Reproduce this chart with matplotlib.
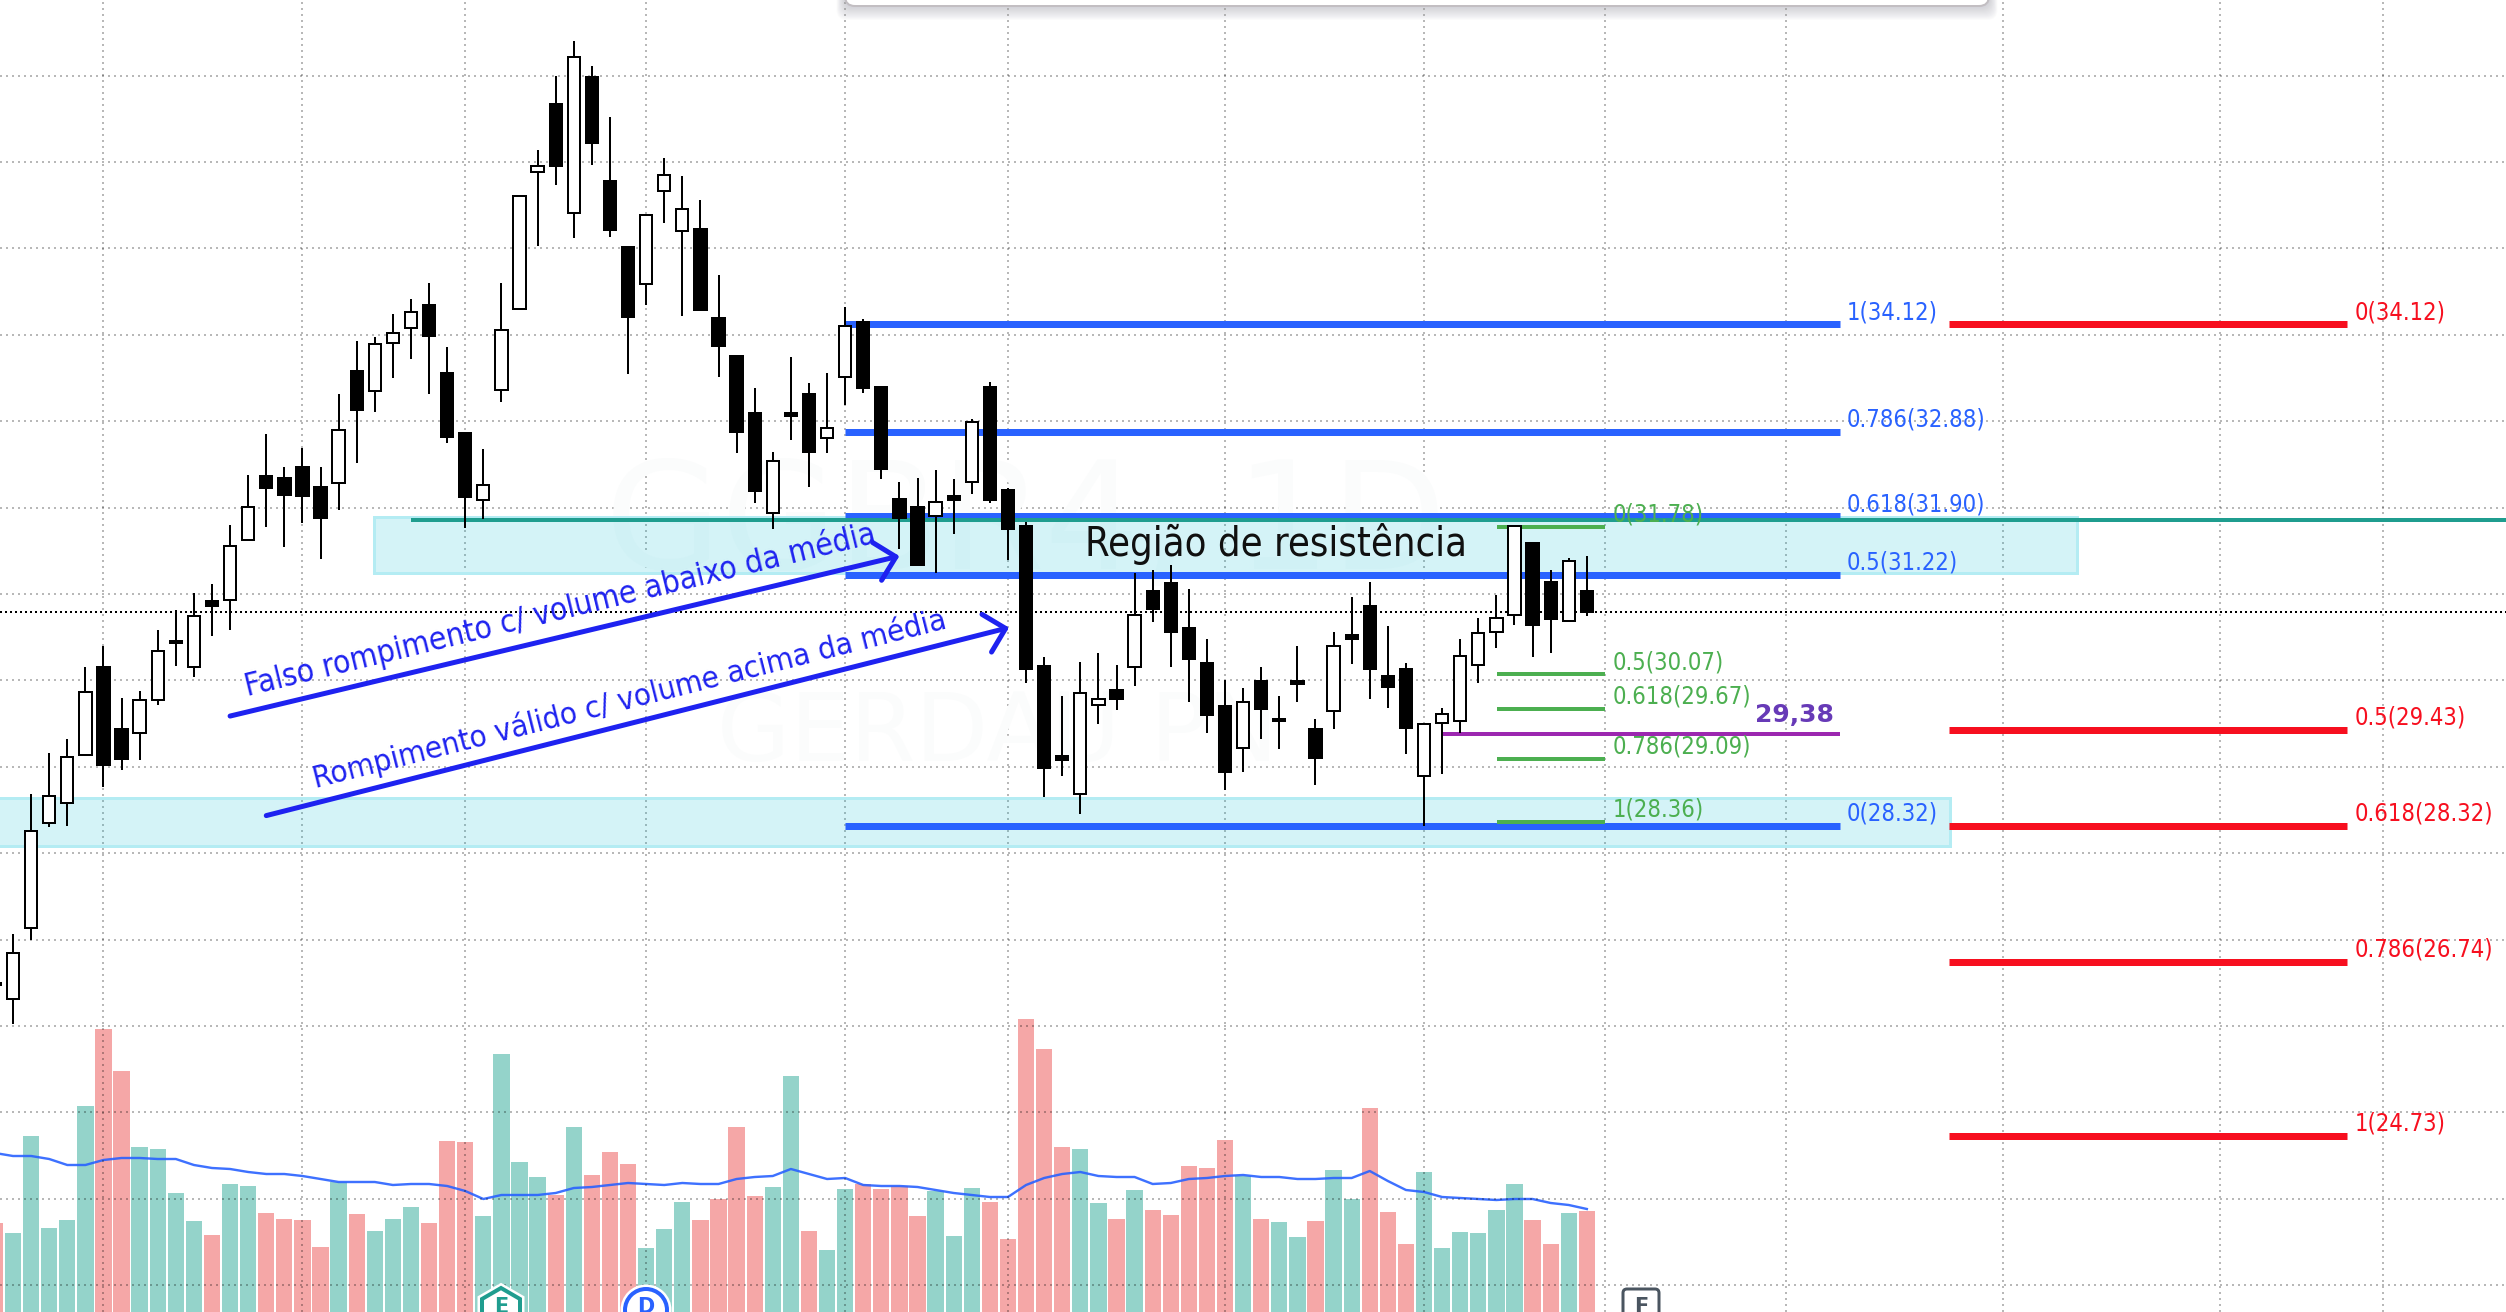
import matplotlib
matplotlib.use("Agg")
import matplotlib.pyplot as plt
from matplotlib.patches import Rectangle, FancyBboxPatch, Polygon, Circle

# candles, first one is the cut off bar at the left edge
opens = [26.50, 26.31, 27.13, 28.35, 28.58, 29.14, 30.16, 29.44, 29.39, 29.77, 30.43, 30.15, 30.92, 30.93, 31.63,
         32.36, 32.34, 32.47, 32.24, 32.28, 33.58, 33.35, 33.90, 34.08, 34.34, 33.56, 32.86, 32.09, 33.36, 34.30,
         35.88, 36.67, 35.41, 36.98, 35.78, 35.01, 34.59, 35.66, 35.20, 35.22, 34.19, 33.75, 33.09, 31.94, 33.09,
         33.31, 32.81, 33.51, 34.15, 33.40, 32.10, 32.01, 31.90, 32.13, 32.30, 33.39, 32.20, 31.79, 30.17, 29.12,
         28.69, 29.72, 29.89, 30.16, 31.03, 31.13, 30.61, 30.20, 29.70, 29.22, 29.99, 29.53, 29.99, 29.44, 29.64,
         30.52, 30.86, 30.05, 30.13, 28.89, 29.51, 29.53, 30.18, 30.56, 30.76, 31.59, 31.14, 30.69, 31.03]
highs = [26.90, 27.07, 28.69, 29.16, 29.32, 30.16, 30.40, 29.80, 29.88, 30.58, 30.81, 31.01, 31.11, 31.80, 32.38,
         32.85, 32.47, 32.69, 32.47, 33.31, 33.93, 33.97, 34.24, 34.41, 34.60, 33.86, 32.87, 32.68, 34.60, 35.62,
         36.14, 36.99, 37.40, 37.11, 36.52, 35.01, 35.39, 36.05, 35.84, 35.56, 34.69, 33.77, 33.38, 32.64, 33.74,
         33.44, 33.56, 34.32, 34.18, 33.40, 32.29, 32.34, 32.43, 32.33, 33.03, 33.45, 32.23, 31.83, 30.27, 29.82,
         30.21, 30.32, 30.18, 31.24, 31.28, 31.33, 31.06, 30.48, 30.01, 29.91, 30.16, 29.82, 30.40, 29.55, 30.56,
         30.97, 31.14, 30.63, 30.20, 29.50, 29.68, 30.48, 30.72, 30.99, 31.79, 31.59, 31.28, 31.42, 31.44]
lows = [26.10, 26.02, 26.99, 28.30, 28.32, 29.13, 28.77, 28.96, 29.08, 29.72, 30.17, 30.04, 30.51, 30.58, 31.63,
        31.77, 31.54, 31.82, 31.40, 31.97, 32.52, 33.11, 33.50, 33.72, 33.31, 32.75, 31.76, 31.87, 33.22, 34.30,
        35.03, 35.73, 35.12, 35.97, 35.13, 33.55, 34.34, 35.29, 34.22, 34.29, 33.51, 32.63, 32.05, 31.75, 32.78,
        32.24, 32.63, 33.19, 33.33, 32.33, 31.52, 31.33, 31.24, 31.69, 32.16, 32.05, 31.39, 29.97, 28.65, 28.89,
        28.45, 29.50, 29.66, 29.94, 30.67, 30.15, 29.75, 29.39, 28.73, 28.94, 29.32, 29.21, 29.75, 28.79, 29.44,
        30.19, 29.79, 29.68, 29.15, 28.31, 28.92, 29.39, 29.97, 30.37, 30.64, 30.27, 30.32, 30.69, 30.75]
closes = [26.47, 26.85, 28.26, 28.66, 29.11, 29.86, 29.02, 29.09, 29.77, 30.34, 30.46, 30.75, 30.86, 31.56, 32.01,
          32.23, 32.15, 32.13, 31.88, 32.90, 33.13, 33.89, 34.02, 34.26, 33.98, 32.82, 32.12, 32.26, 34.05, 35.60,
          35.95, 35.95, 37.21, 36.22, 35.21, 34.20, 35.39, 35.85, 35.46, 34.29, 33.87, 32.88, 32.19, 32.54, 33.06,
          32.64, 32.92, 34.10, 33.38, 32.45, 31.88, 31.33, 32.06, 32.09, 32.99, 32.09, 31.75, 30.13, 28.99, 29.08,
          29.85, 29.79, 29.78, 30.76, 30.83, 30.56, 30.25, 29.60, 28.94, 29.75, 29.67, 29.55, 29.96, 29.10, 30.40,
          30.48, 30.13, 29.92, 29.45, 29.50, 29.61, 30.28, 30.55, 30.72, 31.79, 30.64, 30.71, 31.38, 30.79]

volumes = [8.9, 7.9, 17.6, 8.4, 9.2, 20.6, 28.3, 24.1, 16.5, 16.3, 11.9, 9.1, 7.7, 12.8, 12.6, 9.9, 9.3, 9.2, 6.5,
           13.0, 9.8, 8.1, 9.3, 10.5, 8.9, 17.1, 17.0, 9.6, 25.8, 15.0, 13.5, 11.7, 18.5, 13.7, 16.0, 14.8, 6.4, 8.3,
           11.0, 9.2, 11.3, 18.5, 11.6, 12.5, 23.6, 8.1, 6.2, 12.3, 12.8, 12.3, 12.6, 9.6, 12.1, 7.6, 12.4, 11.0, 7.3,
           29.3, 26.3, 16.5, 16.3, 10.9, 9.3, 12.2, 10.2, 9.7, 14.6, 14.4, 17.2, 13.6, 9.3, 9.0, 7.5, 9.1, 14.2, 11.3,
           20.4, 10.0, 6.8, 14.0, 6.4, 8.0, 7.9, 10.2, 12.8, 9.2, 6.8, 9.9, 10.1]
vol_dirs = "r g g g g g r r g g g g r g g r r r r g r g g g r r r g g g g r g r r r g g g r r r r g g r g g r r r r g g g r r r r r g g r g r r r r r g r g g r g g r r r g g g g g g r r g r".split()
vol_ma = [15.9, 15.6, 15.6, 15.3, 14.7, 14.7, 15.2, 15.4, 15.4, 15.3, 15.3, 14.7, 14.4, 14.3, 14.0, 13.8, 13.8, 13.6,
          13.3, 13.0, 13.0, 13.0, 12.7, 12.8, 12.8, 12.6, 12.1, 11.3, 11.7, 11.7, 11.7, 11.9, 12.4, 12.5, 12.7, 12.9,
          12.8, 12.7, 12.9, 12.8, 12.8, 13.3, 13.5, 13.6, 14.3, 13.8, 13.3, 13.4, 12.7, 12.6, 12.6, 12.5, 12.2, 11.9,
          11.7, 11.5, 11.5, 12.7, 13.4, 13.8, 14.0, 13.6, 13.5, 13.5, 12.8, 12.9, 13.3, 13.4, 13.6, 13.7, 13.5, 13.5,
          13.3, 13.3, 13.4, 13.4, 14.1, 13.1, 12.2, 12.0, 11.5, 11.4, 11.3, 11.2, 11.3, 11.3, 10.9, 10.7, 10.3]

# fibonacci levels, price and label
blue_prices = [34.12, 32.88, 31.90, 31.22, 28.32]
blue_labels = ["1(34.12)", "0.786(32.88)", "0.618(31.90)", "0.5(31.22)", "0(28.32)"]
red_prices = [34.12, 29.43, 28.32, 26.74, 24.73]
red_labels = ["0(34.12)", "0.5(29.43)", "0.618(28.32)", "0.786(26.74)", "1(24.73)"]
green_prices = [31.78, 30.07, 29.67, 29.09, 28.36]
green_labels = ["0(31.78)", "0.5(30.07)", "0.618(29.67)", "0.786(29.09)", "1(28.36)"]

price_ticks = list(range(23, 38))
time_ticks = [5, 16, 25, 35, 46, 55, 67, 78, 88, 98, 110, 122, 131]

BLUE = "#2962ff"
RED = "#f70f1f"
GREEN = "#4caf50"
PX = 0.72  # one pixel in points at dpi 100
FONT = dict(family="DejaVu Sans", stretch="condensed")

fig = plt.figure(figsize=(25.06, 13.12), dpi=100, facecolor="white")
ax_vol = fig.add_axes([0, 0, 1, 1], zorder=1)
ax = fig.add_axes([0, 0, 1, 1], zorder=2)
ax_top = fig.add_axes([0, 0, 1, 1], zorder=3)

xlim = (-0.719, 137.81)
ax.set_xlim(xlim)
ax.set_ylim(22.69, 37.874)
ax.patch.set_alpha(0)
ax.axis("off")

ax_vol.set_xlim(xlim)
ax_vol.set_ylim(0, 131.2)
ax_vol.axis("off")
ax_top.set_xlim(0, 2506)
ax_top.set_ylim(1312, 0)
ax_top.axis("off")

# volume pane
xs = list(range(-1, len(opens) - 1))
vol_cols = ["#94d3ca" if d == "g" else "#f5a7a7" for d in vol_dirs]
ax_vol.bar(xs, volumes, width=0.9, color=vol_cols, linewidth=0)
ax_vol.plot(xs, vol_ma, color=BLUE, lw=2.4 * PX, alpha=0.9)

# grid
dots = (0, (1, 2))
ax.hlines(price_ticks, xlim[0], xlim[1], colors="black", alpha=0.28, lw=2 * PX, linestyles=[dots], zorder=0)
ax.vlines(time_ticks, 22.69, 37.874, colors="black", alpha=0.28, lw=2 * PX, linestyles=[dots], zorder=0)

# watermark
ax.text(56, 31.77, "GGBR4, 1D", fontsize=108, color="#fbfcfc", ha="center", va="center", zorder=0.5)
ax.text(54.4, 29.37, "GERDAU PN", fontsize=68, color="#fbfcfc", ha="center", va="center", zorder=0.5)

# zones
for x0, x1, y0, y1 in [(19.96, 114.1, 31.24, 31.89), (-2, 107.1, 28.08, 28.64)]:
    ax.add_patch(Rectangle((x0, y0), x1 - x0, y1 - y0, facecolor="#00bcd4", alpha=0.17, lw=0, zorder=1))
    ax.add_patch(Rectangle((x0, y0), x1 - x0, y1 - y0, fill=False, edgecolor="#b4ecf3", lw=3 * PX, zorder=1.1))

# fib lines
ax.hlines(blue_prices, 46, 101, colors=BLUE, lw=7 * PX, zorder=2)
ax.hlines(red_prices, 107, 129, colors=RED, lw=7 * PX, zorder=2)
ax.hlines(green_prices, 82.04, 88, colors=GREEN, lw=4 * PX, zorder=2)
ax.hlines(31.86, 22, xlim[1], colors="#1f9d8f", lw=4 * PX, zorder=2.2)
ax.hlines(29.38, 79, 101, colors="#9c27b0", lw=4 * PX, zorder=2.2)
ax.hlines(30.79, xlim[0], xlim[1], colors="black", lw=2 * PX, linestyles=[(0, (1, 1.5))], zorder=2.3)

# candles
ax.vlines(xs, lows, highs, colors="black", lw=2 * PX, zorder=3)
for x, o, c in zip(xs, opens, closes):
    body_col = "white" if c >= o else "black"
    ax.bar(x, abs(c - o), bottom=min(o, c), width=0.68, color=body_col, edgecolor="black", linewidth=2 * PX, zorder=3.1)

# level labels
for p, lab in zip(blue_prices, blue_labels):
    ax.text(101.38, p + 0.14, lab, color=BLUE, fontsize=17, ha="left", va="center", zorder=5, **FONT)
for p, lab in zip(red_prices, red_labels):
    ax.text(129.46, p + 0.14, lab, color=RED, fontsize=17, ha="left", va="center", zorder=5, **FONT)
for p, lab in zip(green_prices, green_labels):
    ax.text(88.45, p + 0.14, lab, color=GREEN, fontsize=17, ha="left", va="center", zorder=5, **FONT)
ax.text(100.65, 29.6, "29,38", color="#673ab7", fontsize=18, fontweight="bold", ha="right", va="center", zorder=5)

# annotations
ax.text(69.8, 31.58, "Região de resistência", color="#101010", fontsize=28.5, ha="center", va="center", zorder=5, **FONT)
ax.text(12.94, 29.82, "Falso rompimento c/ volume abaixo da média", color="#1e22f0", fontsize=22.8, rotation=13.7,
        rotation_mode="anchor", ha="left", va="baseline", zorder=5, **FONT)
ax.text(16.7, 28.75, "Rompimento válido c/ volume acima da média", color="#1e22f0", fontsize=22.5, rotation=14.2,
        rotation_mode="anchor", ha="left", va="baseline", zorder=5, **FONT)
for start, end in [((12.0, 29.587), (49.0, 31.439)), ((14.0, 28.435), (55.06, 30.611))]:
    ax.annotate("", xy=end, xytext=start, zorder=5,
                arrowprops=dict(arrowstyle="->,head_length=1.4,head_width=1.4", color="#1e22f0", lw=5 * PX,
                                shrinkA=0, shrinkB=0))

# chrome on top: toolbar shadow and event markers
for k in range(14, 0, -1):
    ax_top.add_patch(FancyBboxPatch((845 - k * 0.6, -30), 1144 + k * 1.2, 36 + k,
                                    boxstyle="round,pad=0,rounding_size=10", fc="#9a9aa8", ec="none", alpha=0.035))
ax_top.add_patch(FancyBboxPatch((845, -30), 1144, 36, boxstyle="round,pad=0,rounding_size=10", fc="white",
                                ec="#c2bec2", lw=2 * PX))

hexagon = [(501, 1288), (520, 1299), (520, 1335), (501, 1346), (482, 1335), (482, 1299)]
ax_top.add_patch(Polygon(hexagon, closed=True, fc="white", ec="white", lw=9 * PX))
ax_top.add_patch(Polygon(hexagon, closed=True, fc="white", ec="#1f9d8f", lw=4 * PX))
ax_top.text(501, 1297, "E", color="#1f9d8f", fontsize=15, fontweight="bold", ha="center", va="top")

ax_top.add_patch(Circle((646, 1310), 21, fc="white", ec="white", lw=9 * PX))
ax_top.add_patch(Circle((646, 1310), 21, fc="white", ec=BLUE, lw=4 * PX))
ax_top.text(646, 1297, "D", color=BLUE, fontsize=15, fontweight="bold", ha="center", va="top")

ax_top.add_patch(FancyBboxPatch((1623, 1289), 36, 60, boxstyle="round,pad=0,rounding_size=4", fc="white",
                                ec="#4a5560", lw=3 * PX))
ax_top.text(1641, 1297, "F", color="#4a5560", fontsize=15, fontweight="bold", ha="center", va="top")

fig.savefig("out.png", dpi=100)
